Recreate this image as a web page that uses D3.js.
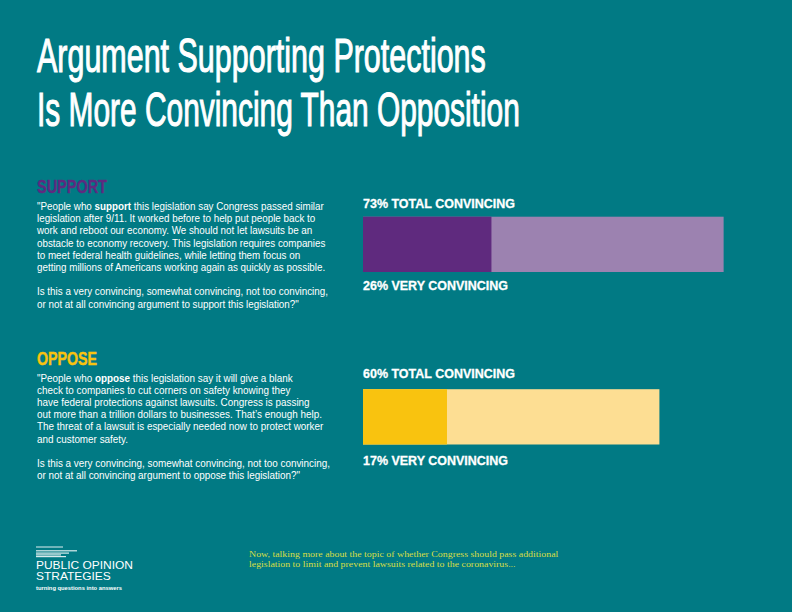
<!DOCTYPE html>
<html>
<head>
<meta charset="utf-8">
<script src="https://cdn.jsdelivr.net/npm/d3@7/dist/d3.min.js"></script>
<style>
html,body{margin:0;padding:0;background:#017A84;}
svg{display:block;}
</style>
</head>
<body>
<svg id="chart" width="792" height="612"></svg>
<script>
// ---------- data ----------
const titleLines = ["Argument Supporting Protections", "Is More Convincing Than Opposition"];
const groups = ["SUPPORT", "OPPOSE"];
const totalConvincing = [73, 60];
const veryConvincing = [26, 17];
const totalLabel = "TOTAL CONVINCING";
const veryLabel = "VERY CONVINCING";
const supportText = [
  ["\"People who ", ["support"], " this legislation say Congress passed similar"],
  ["legislation after 9/11. It worked before to help put people back to"],
  ["work and reboot our economy. We should not let lawsuits be an"],
  ["obstacle to economy recovery. This legislation requires companies"],
  ["to meet federal health guidelines, while letting them focus on"],
  ["getting millions of Americans working again as quickly as possible."],
  [""],
  ["Is this a very convincing, somewhat convincing, not too convincing,"],
  ["or not at all convincing argument to support this legislation?\""]
];
const opposeText = [
  ["\"People who ", ["oppose"], " this legislation say it will give a blank"],
  ["check to companies to cut corners on safety knowing they"],
  ["have federal protections against lawsuits. Congress is passing"],
  ["out more than a trillion dollars to businesses. That\u2019s enough help."],
  ["The threat of a lawsuit is especially needed now to protect worker"],
  ["and customer safety."],
  [""],
  ["Is this a very convincing, somewhat convincing, not too convincing,"],
  ["or not at all convincing argument to oppose this legislation?\""]
];
const footnoteLines = [
  "Now, talking more about the topic of whether Congress should pass additional",
  "legislation to limit and prevent lawsuits related to the coronavirus..."
];
const logoLines = ["PUBLIC OPINION", "STRATEGIES"];
const logoTagline = "turning questions into answers";

// ---------- styles ----------
const BG = "#017A84";
const headColors = ["#5F2A80", "#F9C30F"];
const darkColors = ["#5F2A7E", "#F9C30F"];
const lightColors = ["#9C82B0", "#FDDE93"];
const FOOT = "#D7DE45";

const svg = d3.select("#chart");
svg.append("rect").attr("width", 792).attr("height", 612).attr("fill", BG);

// horizontally fit a text element to a target width (anchored at its x)
function fitWidth(sel, target) {
  sel.each(function () {
    const t = d3.select(this);
    const w = this.getComputedTextLength();
    const x = +t.attr("x"), y = +t.attr("y");
    t.attr("x", 0).attr("y", 0)
     .attr("transform", `translate(${x},${y}) scale(${target / w},1)`);
  });
}

// ---------- title ----------
const titleWidths = [449, 483];
titleLines.forEach((line, i) => {
  const t = svg.append("text")
    .attr("x", 37).attr("y", 72 + i * 53.5)
    .attr("fill", "#fff")
    .attr("stroke", "#fff").attr("stroke-width", 1.1)
    .attr("font-family", "'Liberation Sans',Arial,sans-serif")
    .attr("font-size", 48)
    .text(line);
  fitWidth(t, titleWidths[i]);
});

// ---------- layout scales ----------
const x = d3.scaleLinear().domain([0, 100]).range([363, 857]);
const yOff = d3.scaleLinear().domain([0, 1]).range([0, 172.5]);

const bodyTexts = [supportText, opposeText];
const firstLineWidths = [287, 256];

groups.forEach((g, i) => {
  const oy = yOff(i);
  // heading
  const head = svg.append("text")
    .attr("x", 37).attr("y", 192.7 + oy)
    .attr("fill", headColors[i])
    .attr("font-family", "'Liberation Sans',Arial,sans-serif")
    .attr("font-weight", "bold")
    .attr("font-size", 17.5)
    .attr("stroke", headColors[i]).attr("stroke-width", 0.4)
    .text(g);
  fitWidth(head, i === 0 ? 70 : 60);

  // body paragraph
  const lines = bodyTexts[i];
  const gText = svg.append("g");
  const texts = gText.selectAll("text").data(lines).join("text")
    .attr("x", 37)
    .attr("y", (d, j) => 210 + oy + j * 12.2 - (i === 1 ? 1 : 0))
    .attr("fill", "#fff")
    .attr("font-family", "'Liberation Sans',Arial,sans-serif")
    .attr("font-size", 11);
  texts.each(function (parts) {
    const t = d3.select(this);
    parts.forEach(p => {
      if (Array.isArray(p)) t.append("tspan").attr("font-weight", "bold").text(p[0]);
      else t.append("tspan").text(p);
    });
  });
  const w0 = texts.nodes()[0].getComputedTextLength();
  const sx = firstLineWidths[i] / w0;
  texts.each(function () {
    const t = d3.select(this);
    const yy = +t.attr("y");
    t.attr("x", 0).attr("y", 0).attr("transform", `translate(37,${yy}) scale(${sx},1)`);
  });

  // bars
  const barTop = 216.7 + oy;
  const barH = 55.3;
  svg.append("rect")
    .attr("x", x(0)).attr("y", barTop)
    .attr("width", x(totalConvincing[i]) - x(0)).attr("height", barH)
    .attr("fill", lightColors[i]);
  svg.append("rect")
    .attr("x", x(0)).attr("y", barTop)
    .attr("width", x(veryConvincing[i]) - x(0)).attr("height", barH)
    .attr("fill", darkColors[i]);

  // bar labels
  const tl = svg.append("text")
    .attr("x", 363).attr("y", 207.8 + oy - (i === 1 ? 2.5 : 0))
    .attr("fill", "#fff")
    .attr("font-family", "'Liberation Sans',Arial,sans-serif")
    .attr("font-weight", "bold").attr("font-size", 13.5)
    .attr("stroke", "#fff").attr("stroke-width", 0.3)
    .text(`${totalConvincing[i]}% ${totalLabel}`);
  const vl = svg.append("text")
    .attr("x", 363).attr("y", 290.2 + oy + (i === 1 ? 2.5 : 0))
    .attr("fill", "#fff")
    .attr("font-family", "'Liberation Sans',Arial,sans-serif")
    .attr("font-weight", "bold").attr("font-size", 13.5)
    .attr("stroke", "#fff").attr("stroke-width", 0.3)
    .text(`${veryConvincing[i]}% ${veryLabel}`);
  const k = 152 / tl.node().getComputedTextLength();
  fitWidth(tl, 152);
  fitWidth(vl, vl.node().getComputedTextLength() * k);
});

// ---------- logo ----------
const logo = svg.append("g");
const stripes = [[546.2, 27, 1.6], [550.2, 41, 1.2], [552.5, 33, 1.2], [554.3, 25, 1.2], [556, 30, 1.2]];
logo.selectAll("rect.stripe").data(stripes).join("rect")
  .attr("class", "stripe")
  .attr("x", 36).attr("y", d => d[0]).attr("width", d => d[1]).attr("height", d => d[2])
  .attr("fill", "#fff").attr("opacity", (d, j) => j === 0 ? 0.55 : 0.85);
const ll = logo.selectAll("text.logo").data(logoLines).join("text")
  .attr("class", "logo")
  .attr("x", 36).attr("y", (d, j) => 568.5 + j * 11)
  .attr("fill", "#fff")
  .attr("font-family", "'Liberation Sans',Arial,sans-serif")
  .attr("font-size", 10.8)
  .text(d => d);
const lk = 97 / ll.nodes()[0].getComputedTextLength();
ll.each(function () { fitWidth(d3.select(this), this.getComputedTextLength() * lk); });
const tg = logo.append("text")
  .attr("x", 36).attr("y", 589.5)
  .attr("fill", "#fff")
  .attr("font-family", "'Liberation Sans',Arial,sans-serif")
  .attr("font-weight", "bold")
  .attr("font-size", 5.6)
  .text(logoTagline);
fitWidth(tg, 86);

// ---------- footnote ----------
const fn = svg.selectAll("text.foot").data(footnoteLines).join("text")
  .attr("class", "foot")
  .attr("x", 249).attr("y", (d, j) => 556.5 + j * 10.8)
  .attr("fill", FOOT)
  .attr("font-family", "'Liberation Serif','Times New Roman',serif")
  .attr("font-size", 9)
  .text(d => d);
const fk = 310 / fn.nodes()[0].getComputedTextLength();
fn.each(function () { fitWidth(d3.select(this), this.getComputedTextLength() * fk); });
</script>
</body>
</html>
